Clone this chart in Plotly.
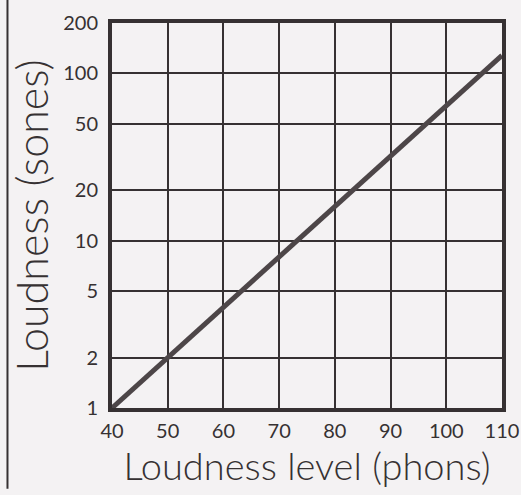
import plotly.graph_objects as go

# Loudness (sones) against loudness level (phons)
phons = [40, 50, 60, 70, 80, 90, 100, 110]
sones = [1, 2, 4, 8, 16, 32, 64, 128]

x_ticks = [40, 50, 60, 70, 80, 90, 100, 110]
y_ticks = [1, 2, 5, 10, 20, 50, 100, 200]

ink = "#363132"
bg = "#f4f2f3"
font_family = "Lato, 'Open Sans', sans-serif"

fig = go.Figure()
fig.add_trace(go.Scatter(
    x=phons, y=sones, mode="lines",
    line=dict(color="#4d4648", width=5),
    hoverinfo="skip", showlegend=False,
))

fig.update_xaxes(
    range=[40, 110], tickvals=x_ticks, ticktext=[str(v) for v in x_ticks],
    showgrid=True, gridcolor=ink, gridwidth=2,
    showline=True, linecolor=ink, linewidth=4, mirror=True,
    zeroline=False, ticks="", ticklabelstandoff=2,
    ticklabeloverflow="allow", automargin=False,
    tickfont=dict(size=20, color=ink, family=font_family, weight=400),
    title=dict(text="Loudness level (phons)", standoff=2,
               font=dict(size=38, color=ink, family=font_family, weight=300)),
)
fig.update_yaxes(
    type="log", range=[0, 2.30103], tickvals=y_ticks,
    ticktext=[str(v) for v in y_ticks],
    showgrid=True, gridcolor=ink, gridwidth=2,
    showline=True, linecolor=ink, linewidth=4, mirror=True,
    zeroline=False, ticks="", ticklabelstandoff=6,
    ticklabeloverflow="allow", automargin=False,
    tickfont=dict(size=20, color=ink, family=font_family, weight=400),
    title=dict(text="Loudness (sones)", standoff=2,
               font=dict(size=43, color=ink, family=font_family, weight=300)),
)

fig.update_layout(
    width=521, height=495,
    margin=dict(l=112, r=19, t=23, b=87),
    paper_bgcolor=bg, plot_bgcolor=bg,
    shapes=[dict(type="line", xref="paper", yref="paper",
                 x0=-0.268, x1=-0.268, y0=1.06, y1=-0.21,
                 line=dict(color=ink, width=2))],
)

fig.write_html("out.html")
